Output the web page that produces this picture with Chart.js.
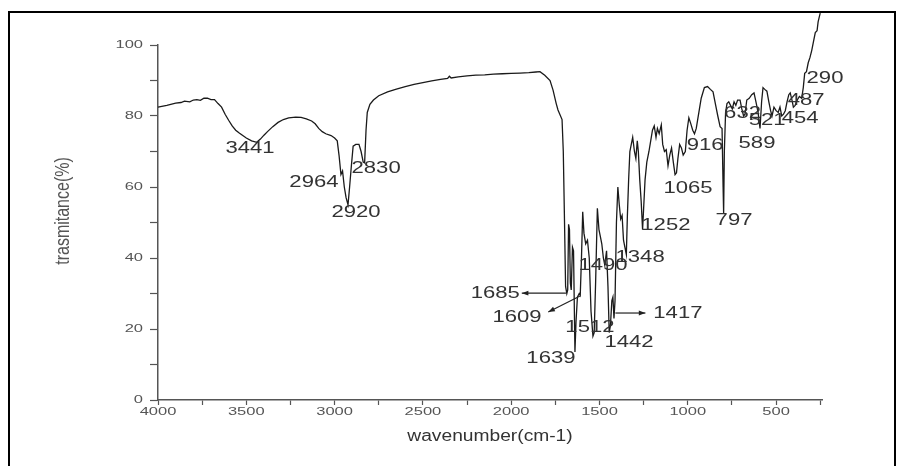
<!DOCTYPE html>
<html>
<head>
<meta charset="utf-8">
<title>IR spectrum</title>
<script src="https://cdn.jsdelivr.net/npm/chart.js@4.4.1/dist/chart.umd.min.js"></script>
<style>
  html, body { margin: 0; padding: 0; background: #fff; }
  #wrap { position: relative; width: 907px; height: 466px; overflow: hidden; }
  #irChart { position: absolute; left: 0; top: 0; }
  #frame { position: absolute; left: 8px; top: 11px; width: 884px; height: 470px;
           border: 2px solid #000; border-bottom: none; pointer-events: none; }
</style>
</head>
<body>
<div id="wrap">
  <canvas id="irChart" width="907" height="466"></canvas>
  <div id="frame"></div>
</div>
<script>
// spectrum (cm-1 / %)
const wavenumbers = [
  4000, 3950, 3900, 3870, 3850, 3820, 3800, 3780, 3760, 3740, 3720, 3700, 3680, 3660, 3640, 3620,
  3600, 3580, 3560, 3540, 3520, 3500, 3470, 3441, 3420, 3400, 3380, 3350, 3320, 3290, 3260, 3220,
  3190, 3160, 3130, 3110, 3090, 3070, 3050, 3020, 3000, 2985, 2975, 2964, 2955, 2945, 2935, 2924,
  2915, 2905, 2895, 2880, 2862, 2850, 2838, 2830, 2822, 2815, 2800, 2780, 2750, 2700, 2650, 2600,
  2550, 2500, 2450, 2400, 2360, 2350, 2340, 2300, 2250, 2200, 2150, 2100, 2050, 2000, 1950, 1900,
  1860, 1837, 1810, 1780, 1763, 1745, 1735, 1712, 1705, 1698, 1692, 1685, 1680, 1675, 1670, 1665,
  1660, 1653, 1647, 1639, 1633, 1625, 1615, 1609, 1602, 1595, 1588, 1578, 1568, 1558, 1548, 1537,
  1530, 1522, 1512, 1503, 1495, 1487, 1478, 1470, 1460, 1452, 1445, 1438, 1430, 1424, 1418, 1412,
  1404, 1396, 1388, 1380, 1372, 1364, 1356, 1348, 1342, 1335, 1328, 1320, 1312, 1302, 1294, 1286,
  1280, 1272, 1264, 1256, 1250, 1242, 1232, 1220, 1210, 1200, 1190, 1180, 1172, 1162, 1150, 1142,
  1132, 1122, 1112, 1102, 1092, 1082, 1072, 1064, 1056, 1046, 1036, 1026, 1014, 1004, 994, 984,
  972, 962, 952, 944, 934, 924, 906, 888, 872, 857, 842, 830, 817, 806, 800, 797,
  793, 786, 778, 768, 758, 748, 738, 728, 718, 704, 694, 684, 676, 666, 652, 638,
  625, 614, 602, 591, 582, 574, 564, 552, 541, 531, 523, 512, 500, 488, 478, 468,
  458, 448, 438, 428, 420, 410, 402, 392, 380, 368, 355, 346, 338, 328, 318, 308,
  298, 288, 278, 268, 262, 255, 250
];
const transmittance = [
  82.5, 83, 83.6, 83.8, 84.2, 84, 84.5, 84.6, 84.4, 85, 85, 84.6, 84.6, 83.5, 82.5, 80.5,
  78.8, 77.2, 76, 75.2, 74.5, 73.8, 73, 72.6, 73.5, 74.6, 75.6, 77, 78.2, 79, 79.5, 79.7,
  79.6, 79.2, 78.6, 77.8, 76.5, 75.6, 75, 74.5, 73.8, 73, 69, 63.5, 64.5, 60, 57, 55,
  60, 66, 71.5, 72, 72, 70, 67, 66.8, 76, 81, 83.3, 84.5, 85.7, 86.8, 87.6, 88.3,
  88.9, 89.4, 89.9, 90.3, 90.6, 91.2, 90.7, 91, 91.3, 91.5, 91.6, 91.8, 91.9, 92, 92.1, 92.2,
  92.4, 92.5, 91.5, 90, 87.3, 83.5, 81.7, 79, 70, 50, 32, 30, 31, 49.5, 48, 33,
  31, 43, 42, 13.5, 22, 29, 30, 29.5, 40, 53, 47, 44, 45, 40, 25, 18,
  19, 33, 54, 48, 46, 44, 40, 38, 42, 32, 19, 21, 28, 29, 23, 28,
  50, 60, 55, 51, 52, 45, 43, 41, 52, 62, 70, 72, 74, 70, 68, 73,
  70, 62, 56, 48, 54, 62, 67, 70, 73, 76, 77.2, 74, 76.5, 75, 77.5, 72,
  70, 70.5, 66, 69, 71, 67, 63.5, 64, 68, 72, 71, 69, 70, 76, 79.5, 78,
  76, 75, 76.5, 79, 82, 85, 88, 88.3, 87.5, 86.8, 83, 80, 77, 76.5, 60, 52.5,
  70, 81, 83.5, 84, 83, 82, 84, 83, 84.5, 84.5, 82, 80, 80.5, 84.5, 85, 86,
  86.5, 84, 81, 76.5, 84, 88, 87.5, 87, 84, 81.5, 80, 82.5, 81.5, 81, 82.5, 80,
  80.5, 81.5, 84, 86, 86.5, 84.5, 82.5, 83, 84.5, 85.5, 85, 88, 92, 92.5, 95, 96.5,
  98.5, 101, 103.5, 104, 106.5, 108, 109
];

const xTickLabels = [4000, 3500, 3000, 2500, 2000, 1500, 1000, 500];
const xMinorTicks = [3750, 3250, 2750, 2250, 1750, 1250, 750, 250];
const yTickLabels = [0, 20, 40, 60, 80, 100];

// peak labels and where their text sits (cm-1, %)
const peakNames = ['3441', '2964', '2830', '2920', '1685', '1609', '1512', '1442', '1639', '1490',
                   '1348', '1417', '1252', '1065', '916', '589', '797', '632', '521', '454', '487', '290'];
const peakTextX = [3479, 3117, 2765, 2879, 2090, 1967, 1554, 1333, 1775, 1480,
                   1270, 1056, 1124, 999, 902, 608, 738, 690, 551, 364, 330, 223];
const peakTextY = [71, 61.4, 65.4, 53, 30.1, 23.4, 20.6, 16.3, 11.8, 38,
                   40.3, 24.5, 49.3, 59.7, 71.8, 72.4, 50.7, 80.8, 78.9, 79.4, 84.5, 90.7];

// arrows: [fromX, fromY, toX, toY], head at the "from" end
const arrows = [
  [1940, 30.1, 1690, 30.1],
  [1790, 24.8, 1610, 29.3],
  [1240, 24.5, 1410, 24.5]
];

const points = wavenumbers.map((w, i) => ({ x: w, y: transmittance[i] }));

function drawText(ctx, text, x, y, size, sx, color, align) {
  ctx.save();
  ctx.font = size + 'px "Liberation Sans", Arial, sans-serif';
  ctx.fillStyle = color;
  ctx.textBaseline = 'middle';
  ctx.textAlign = align || 'center';
  ctx.translate(x, y);
  ctx.scale(sx, 1);
  ctx.fillText(text, 0, 0);
  ctx.restore();
}

const annotations = {
  id: 'annotations',
  afterDraw(chart) {
    const ctx = chart.ctx;
    const xs = chart.scales.x, ys = chart.scales.y;

    xTickLabels.forEach(v => drawText(ctx, String(v), xs.getPixelForValue(v), 412, 11, 1.5, '#555'));
    yTickLabels.forEach(v => drawText(ctx, String(v), 143, ys.getPixelForValue(v), 11, 1.5, '#555', 'right'));

    drawText(ctx, 'wavenumber(cm-1)', (xs.left + xs.right) / 2, 437, 16, 1.2, '#333');
    ctx.save();
    ctx.translate(63, 211);
    ctx.rotate(-Math.PI / 2);
    ctx.scale(1, 1.3);
    ctx.font = '16px "Liberation Sans", Arial, sans-serif';
    ctx.fillStyle = '#555';
    ctx.textAlign = 'center';
    ctx.textBaseline = 'middle';
    ctx.fillText('trasmitance(%)', 0, 0);
    ctx.restore();

    peakNames.forEach((name, i) => {
      drawText(ctx, name, xs.getPixelForValue(peakTextX[i]), ys.getPixelForValue(peakTextY[i]), 17, 1.3, '#333');
    });

    ctx.save();
    ctx.strokeStyle = '#222';
    ctx.fillStyle = '#222';
    ctx.lineWidth = 1.2;
    arrows.forEach(a => {
      const x1 = xs.getPixelForValue(a[0]), y1 = ys.getPixelForValue(a[1]);
      const x2 = xs.getPixelForValue(a[2]), y2 = ys.getPixelForValue(a[3]);
      ctx.beginPath();
      ctx.moveTo(x1, y1);
      ctx.lineTo(x2, y2);
      ctx.stroke();
      const ang = Math.atan2(y1 - y2, x1 - x2);
      ctx.beginPath();
      ctx.moveTo(x1, y1);
      ctx.lineTo(x1 - 7 * Math.cos(ang - 0.35), y1 - 7 * Math.sin(ang - 0.35));
      ctx.lineTo(x1 - 7 * Math.cos(ang + 0.35), y1 - 7 * Math.sin(ang + 0.35));
      ctx.closePath();
      ctx.fill();
    });
    ctx.restore();
  }
};

new Chart(document.getElementById('irChart'), {
  type: 'line',
  data: {
    datasets: [{
      data: points,
      borderColor: '#1a1a1a',
      borderWidth: 1.3,
      pointRadius: 0,
      tension: 0,
      clip: false
    }]
  },
  options: {
    responsive: false,
    animation: false,
    devicePixelRatio: 1,
    layout: { padding: { top: 45, right: 85, left: 0, bottom: 0 } },
    plugins: { legend: { display: false }, tooltip: { enabled: false } },
    scales: {
      x: {
        type: 'linear',
        reverse: true,
        min: 240,
        max: 4000,
        afterBuildTicks: s => {
          s.ticks = xTickLabels.concat(xMinorTicks).sort((a, b) => b - a).map(v => ({ value: v }));
        },
        afterFit: s => { s.height = 66; },
        ticks: { display: false, autoSkip: false },
        grid: { drawOnChartArea: false, tickLength: 5, tickColor: '#555', tickWidth: 1.2 },
        border: { color: '#555', width: 1.5 }
      },
      y: {
        min: 0,
        max: 100,
        afterFit: s => { s.width = 158; },
        ticks: { display: false, stepSize: 10 },
        grid: { drawOnChartArea: false, tickLength: 8, tickColor: '#555', tickWidth: 1.2 },
        border: { color: '#555', width: 1.5 }
      }
    }
  },
  plugins: [annotations]
});
</script>
</body>
</html>
